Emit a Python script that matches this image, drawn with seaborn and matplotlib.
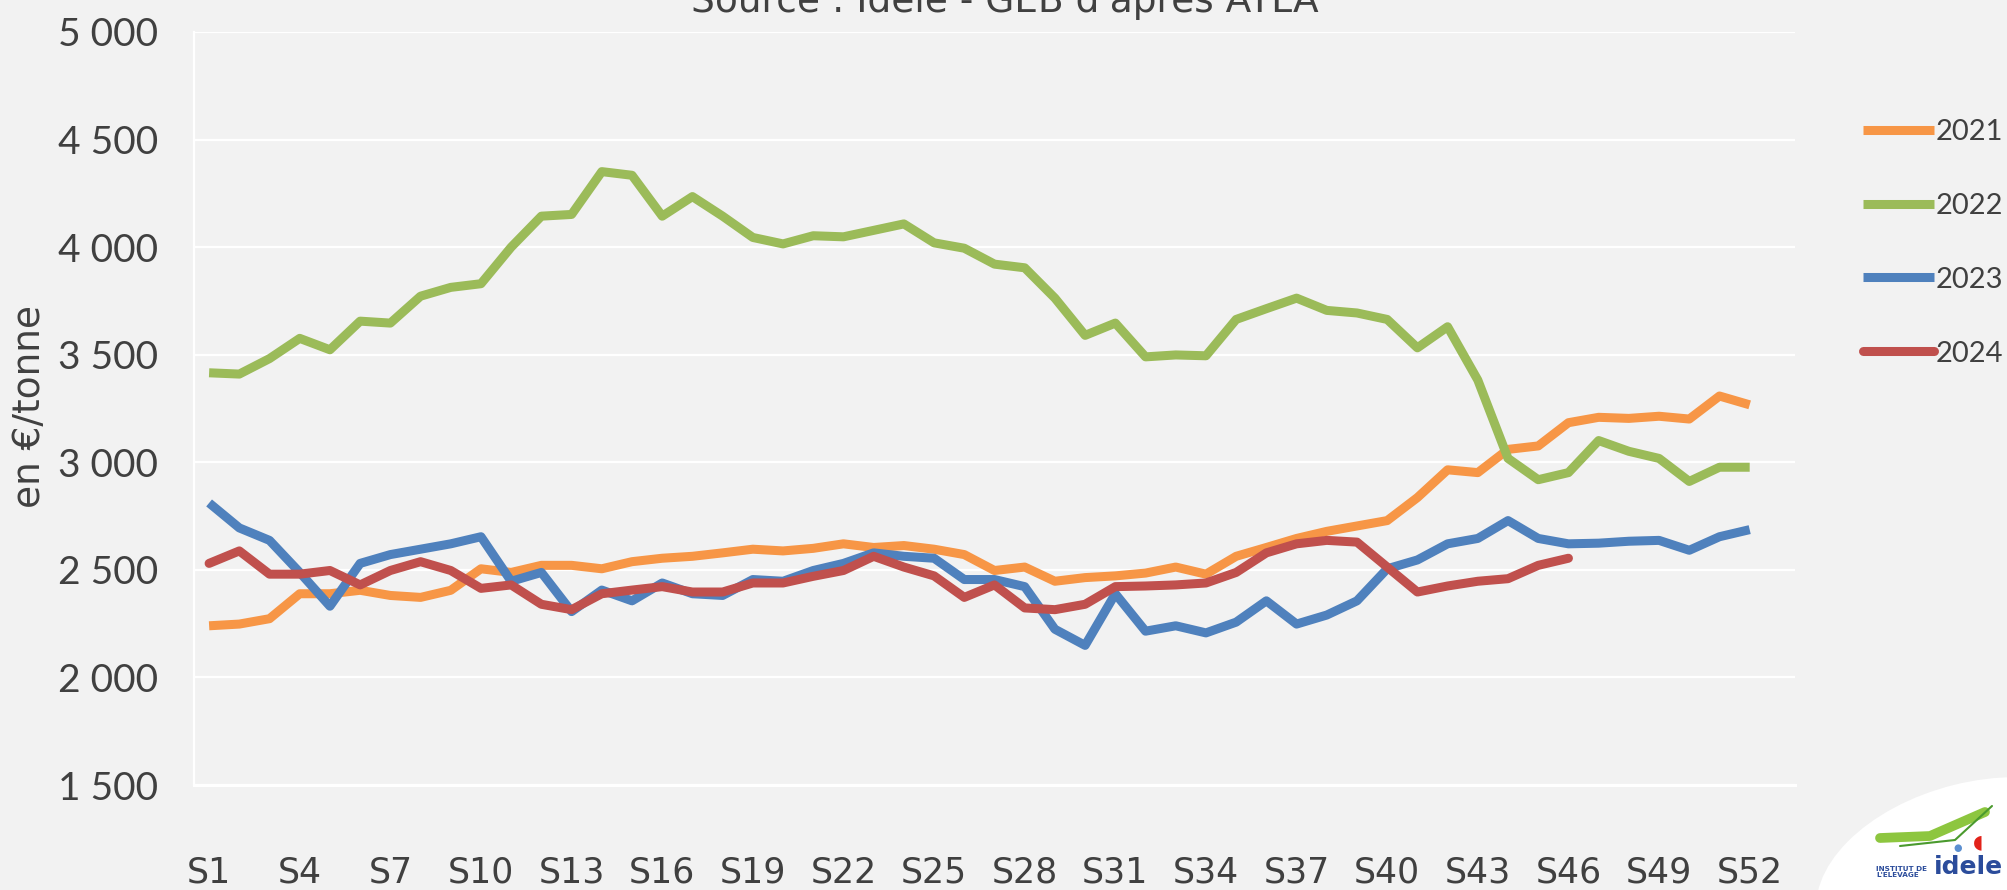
import numpy as np
import pandas as pd
import matplotlib
matplotlib.use("Agg")
import matplotlib.pyplot as plt
import seaborn as sns
from matplotlib.patches import Ellipse
from matplotlib.lines import Line2D

# ---------------- data ----------------
week_labels = [f"S{i}" for i in range(1, 54)]
years = ["2021", "2022", "2023", "2024"]

prix_2021 = [2240, 2248, 2273, 2389, 2389, 2405, 2381, 2372, 2405, 2505,
             2488, 2521, 2521, 2505, 2538, 2554, 2563, 2579, 2596, 2588,
             2600, 2621, 2604, 2613, 2596, 2571, 2497, 2513, 2447, 2464,
             2472, 2485, 2513, 2480, 2563, 2604, 2646, 2679, 2704, 2729,
             2836, 2965, 2952, 3060, 3076, 3184, 3209, 3204, 3214, 3201,
             3308, 3267]
prix_2022 = [3416, 3410, 3482, 3576, 3523, 3656, 3647, 3772, 3813, 3830,
             4000, 4144, 4152, 4351, 4334, 4144, 4235, 4144, 4045, 4015,
             4053, 4048, 4078, 4108, 4020, 3995, 3921, 3904, 3763, 3590,
             3647, 3490, 3499, 3495, 3664, 3714, 3763, 3706, 3694, 3664,
             3532, 3630, 3382, 3018, 2919, 2952, 3101, 3051, 3018, 2911,
             2977, 2977]
prix_2023 = [2811, 2695, 2637, 2488, 2331, 2530, 2571, 2596, 2621, 2654,
             2447, 2488, 2306, 2406, 2356, 2439, 2389, 2381, 2455, 2447,
             2497, 2530, 2579, 2563, 2554, 2455, 2455, 2422, 2224, 2149,
             2389, 2215, 2240, 2207, 2257, 2356, 2248, 2290, 2356, 2505,
             2546, 2621, 2646, 2729, 2646, 2621, 2624, 2633, 2637, 2591,
             2654, 2687]
prix_2024 = [2530, 2588, 2480, 2480, 2497, 2430, 2497, 2538, 2497, 2414,
             2430, 2340, 2315, 2389, 2406, 2422, 2397, 2397, 2439, 2439,
             2470, 2497, 2563, 2513, 2472, 2372, 2430, 2323, 2315, 2340,
             2422, 2425, 2430, 2439, 2488, 2579, 2621, 2637, 2629, 2513,
             2397, 2425, 2447, 2459, 2521, 2554]

colors = {"2021": "#F79646", "2022": "#9BBB59", "2023": "#4F81BD", "2024": "#C0504D"}
y_ticks = [1500, 2000, 2500, 3000, 3500, 4000, 4500, 5000]
y_tick_labels = ["1 500", "2 000", "2 500", "3 000", "3 500", "4 000", "4 500", "5 000"]

series = {"2021": prix_2021, "2022": prix_2022, "2023": prix_2023, "2024": prix_2024}
rows = []
for yr in years:
    for i, v in enumerate(series[yr]):
        rows.append({"semaine": i, "prix": v, "annee": yr})
df = pd.DataFrame(rows)

# ---------------- style ----------------
BG = "#F2F2F2"
TXT = "#404040"
sns.set_style("white", {"axes.facecolor": BG, "figure.facecolor": BG})
narrow = ["Liberation Sans Narrow", "DejaVu Sans"]
wide = ["Lato", "DejaVu Sans"]
plt.rcParams["font.family"] = wide

fig = plt.figure(figsize=(20.08, 8.9), dpi=100, facecolor=BG)
W, H = 2008, 890
ax = fig.add_axes([194 / W, 105 / H, (1795 - 194) / W, (785 - 32) / H])
ax.set_facecolor(BG)

sns.lineplot(data=df, x="semaine", y="prix", hue="annee", palette=colors,
             linewidth=6.5, ax=ax, legend=True, sort=False)
for line, yr in zip(ax.lines, years):
    line.set_solid_capstyle("round" if yr == "2024" else "butt")
    line.set_solid_joinstyle("round")

ax.set_xlim(-0.5, 52.5)
ax.set_ylim(1500, 5000)
ax.set_yticks(y_ticks)
ax.set_yticklabels(y_tick_labels, fontsize=28, color=TXT, family=wide)
ax.tick_params(axis="y", length=0, pad=26)

ax.set_xticks(range(0, 52, 3))
ax.set_xticklabels(week_labels[0:52:3], fontsize=25, color=TXT, family=narrow)
ax.set_xticks(np.arange(-0.5, 53, 1), minor=True)
ax.tick_params(axis="x", which="major", length=0, pad=51)
ax.tick_params(axis="x", which="minor", length=9.5, width=1.5, color="white", direction="out")

ax.grid(False)
ax.yaxis.grid(True, color="white", linewidth=1.6)
for s in ["top", "right"]:
    ax.spines[s].set_visible(False)
ax.spines["left"].set_color("white")
ax.spines["left"].set_linewidth(1.6)
ax.spines["bottom"].set_color("white")
ax.spines["bottom"].set_linewidth(2.2)

ax.set_xlabel("")
ax.set_ylabel("")
fig.text(30 / W, 1 - 407 / H, "en €/tonne", rotation=90, ha="center", va="center",
         fontsize=27, color=TXT, family=narrow)

# legend
ax.get_legend().remove()
leg_handles = []
for yr in years:
    leg_handles.append(Line2D([0], [0], color=colors[yr], linewidth=6.5,
                              solid_capstyle="round" if yr == "2024" else "butt"))
fig.legend(leg_handles, years, loc="upper left", bbox_to_anchor=(1863 / W, 1 - 119 / H),
           frameon=False, fontsize=21, handlelength=2.45, handletextpad=0.05,
           labelspacing=1.64, borderpad=0, borderaxespad=0, labelcolor=TXT)

# title (cut at top)
fig.text(1005 / W, 1 - 12 / H, "Source : Idele - GEB d'après ATLA", ha="center",
         va="baseline", fontsize=27, color=TXT, family=narrow)

# logo
fig.add_artist(Ellipse((19.78, 0.08), 3.3, 2.0, angle=14, transform=fig.dpi_scale_trans,
                       facecolor="white", edgecolor="none", zorder=5))
fig.add_artist(Line2D([1880 / W, 1930 / W, 1985 / W], [1 - 838 / H, 1 - 836 / H, 1 - 812 / H],
                      color="#8DC63F", linewidth=7, solid_capstyle="round", zorder=6))
fig.add_artist(Line2D([1900 / W, 1955 / W, 1992 / W], [1 - 846 / H, 1 - 840 / H, 1 - 806 / H],
                      color="#4A9A2E", linewidth=1.5, zorder=6))
fig.text(1978 / W, 1 - 842 / H, "◖", fontsize=14, color="#E2231A", ha="center", va="center",
         family=["DejaVu Sans"], zorder=6)
fig.text(1958 / W, 1 - 848 / H, "●", fontsize=7, color="#5B8FD0", ha="center", va="center",
         family=["DejaVu Sans"], zorder=6)
fig.text(1876 / W, 1 - 872 / H, "INSTITUT DE\nL'ELEVAGE", fontsize=5.2, color="#2B4C9B",
         fontweight="bold", ha="left", va="center", linespacing=1.05, family=narrow, zorder=6)
fig.text(1934 / W, 1 - 867 / H, "idele", fontsize=18, color="#2B4C9B", fontweight="bold",
         ha="left", va="center", family=narrow, zorder=6)

fig.savefig("out.png", dpi=100, facecolor=BG)
